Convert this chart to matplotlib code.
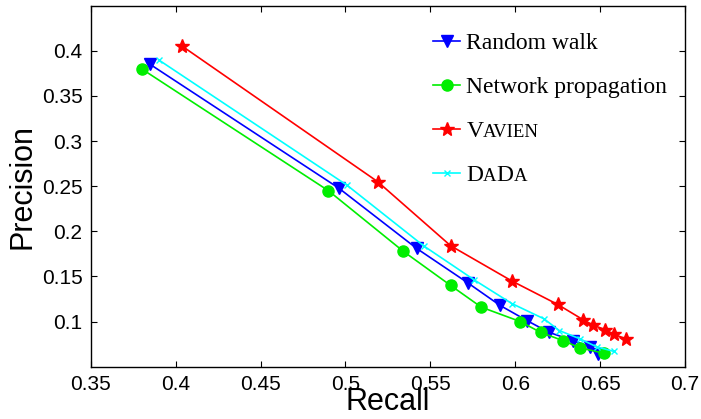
import matplotlib
import matplotlib.pyplot as plt

matplotlib.use("Agg")

# Precision / recall curves
rw_recall = [0.385, 0.496, 0.542, 0.572, 0.591, 0.607, 0.620, 0.634, 0.644, 0.649]
rw_precision = [0.385, 0.248, 0.181, 0.143, 0.118, 0.101, 0.088, 0.079, 0.072, 0.064]

np_recall = [0.380, 0.490, 0.534, 0.562, 0.580, 0.603, 0.615, 0.628, 0.638, 0.652]
np_precision = [0.380, 0.245, 0.178, 0.140, 0.116, 0.100, 0.088, 0.079, 0.071, 0.065]

vavien_recall = [0.404, 0.519, 0.562, 0.598, 0.625, 0.640, 0.646, 0.653, 0.658, 0.665]
vavien_precision = [0.405, 0.255, 0.184, 0.145, 0.119, 0.102, 0.096, 0.091, 0.086, 0.081]

dada_recall = [0.390, 0.501, 0.546, 0.576, 0.598, 0.617, 0.626, 0.638, 0.648, 0.658]
dada_precision = [0.390, 0.251, 0.184, 0.146, 0.120, 0.103, 0.090, 0.081, 0.072, 0.067]

x_ticks = [0.35, 0.4, 0.45, 0.5, 0.55, 0.6, 0.65, 0.7]
y_ticks = [0.1, 0.15, 0.2, 0.25, 0.3, 0.35, 0.4]

BIG, SMALL = 17, 13.5
# label pieces (text, fontsize) to fake small caps
series = [
    (rw_recall, rw_precision, "blue", "v", 8, [("Random walk", BIG)]),
    (np_recall, np_precision, "#00ee00", "o", 8, [("Network propagation", BIG)]),
    (vavien_recall, vavien_precision, "red", "*", 10, [("V", BIG), ("AVIEN", SMALL)]),
    (dada_recall, dada_precision, "cyan", "x", 5,
     [("D", BIG), ("A", SMALL), ("D", BIG), ("A", SMALL)]),
]

fig = plt.figure(figsize=(7.01, 4.19), dpi=100)
ax = fig.add_axes([0.1294, 0.1248, 0.8478, 0.8616])

for rec, prec, color, marker, ms, _ in series:
    ax.plot(rec, prec, color=color, marker=marker, markersize=ms,
            markerfacecolor=color, markeredgecolor=color, linewidth=1.2)

ax.set_xlim(0.35, 0.7)
ax.set_ylim(0.05, 0.45)
ax.set_xticks(x_ticks)
ax.set_xticklabels(["%g" % t for t in x_ticks])
ax.set_yticks(y_ticks)
ax.set_yticklabels(["%g" % t for t in y_ticks])
ax.tick_params(direction="in", length=4, width=0.8, top=True, right=True,
               labelsize=15, pad=6)
for lab in ax.get_xticklabels() + ax.get_yticklabels():
    lab.set_fontfamily("Liberation Sans")
for sp in ax.spines.values():
    sp.set_linewidth(1.0)

ax.set_xlabel("Recall", fontsize=22, family="Liberation Sans", labelpad=-5)
ax.set_ylabel("Precision", fontsize=22, family="Liberation Sans", labelpad=3)

# hand-made legend so the small caps can be drawn
leg_y = [0.903, 0.781, 0.659, 0.537]
x0, x1, xt = 0.576, 0.622, 0.632
for (rec, prec, color, marker, ms, pieces), y in zip(series, leg_y):
    ax.plot([x0, x1], [y, y], color=color, linewidth=1.2, transform=ax.transAxes,
            clip_on=False)
    ax.plot([(x0 + x1) / 2], [y], color=color, marker=marker, markersize=ms,
            markerfacecolor=color, markeredgecolor=color, transform=ax.transAxes,
            clip_on=False)
    yb = y - 0.0216
    prev = None
    for txt, fs in pieces:
        if prev is None:
            prev = ax.text(xt, yb, txt, fontsize=fs, family="Liberation Serif",
                           va="baseline", ha="left", transform=ax.transAxes)
        else:
            prev = ax.annotate(txt, xy=(1, yb), xycoords=(prev, "axes fraction"),
                               fontsize=fs, family="Liberation Serif",
                               va="baseline", ha="left")

fig.savefig("out.png", dpi=100)
